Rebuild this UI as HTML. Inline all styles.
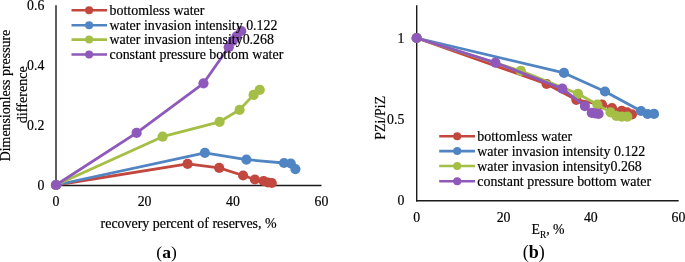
<!DOCTYPE html>
<html><head><meta charset="utf-8"><style>html,body{margin:0;padding:0;background:#fff;width:685px;height:262px;overflow:hidden}svg{display:block;will-change:transform;filter:blur(0.3px)}</style></head>
<body><svg width="685" height="262" viewBox="0 0 685 262" style="font-family:'Liberation Serif',serif" font-size="13.8" fill="#000">
<style>text{stroke:#000;stroke-width:0.18px} text.cap{stroke:none}</style>
<rect width="685" height="262" fill="#fff"/>
<!-- left chart axes -->
<line x1="56" y1="5.3" x2="56" y2="186" stroke="#1a1a1a" stroke-width="1.4"/>
<line x1="56" y1="185.4" x2="321.5" y2="185.4" stroke="#1a1a1a" stroke-width="1.5"/>
<g text-anchor="end">
<text x="44.3" y="10">0.6</text>
<text x="44.3" y="70">0.4</text>
<text x="44.3" y="130">0.2</text>
<text x="44.3" y="189.7">0</text>
</g>
<g text-anchor="middle">
<text x="56" y="205.8">0</text>
<text x="144.6" y="205.8">20</text>
<text x="233" y="205.8">40</text>
<text x="321.5" y="205.8">60</text>
<text x="188.6" y="227.8" font-size="13.95">recovery percent of reserves, %</text>
<text transform="translate(9.7,95.5) rotate(-90)" font-size="13.9">Dimensionless pressure</text>
<text transform="translate(26.6,94.7) rotate(-90)" font-size="14.2">difference</text>
<text class="cap" x="166.5" y="257.8" font-size="17.5">(<tspan font-weight="bold">a</tspan>)</text>
</g>
<!-- right chart axes -->
<line x1="416.7" y1="5.3" x2="416.7" y2="201.4" stroke="#1a1a1a" stroke-width="1.4"/>
<line x1="416" y1="200.7" x2="678.7" y2="200.7" stroke="#1a1a1a" stroke-width="1.5"/>
<g text-anchor="end">
<text x="404.3" y="42.7">1</text>
<text x="404.3" y="123.6">0.5</text>
<text x="404.3" y="205.3">0</text>
</g>
<g text-anchor="middle">
<text x="416.7" y="222">0</text>
<text x="503.6" y="222">20</text>
<text x="590.8" y="222">40</text>
<text x="678.4" y="222">60</text>
<text transform="translate(385,117.8) rotate(-90)">PZi/PiZ</text>
<text class="cap" x="533.7" y="257.8" font-size="18">(<tspan font-weight="bold">b</tspan>)</text>
</g>
<text x="531.5" y="233.5">E<tspan font-size="9.3" dy="4">R</tspan><tspan dy="-4">, %</tspan></text>
<polyline points="56,185 187.6,163.9 219.2,167.9 243.1,175.5 254.9,179.5 263.6,181 267.8,182.5 271.8,183" fill="none" stroke="#C2483F" stroke-width="2.8" stroke-linejoin="round"/>
<circle cx="56" cy="185" r="5.1" fill="#C2483F"/>
<circle cx="187.6" cy="163.9" r="5.1" fill="#C2483F"/>
<circle cx="219.2" cy="167.9" r="5.1" fill="#C2483F"/>
<circle cx="243.1" cy="175.5" r="5.1" fill="#C2483F"/>
<circle cx="254.9" cy="179.5" r="5.1" fill="#C2483F"/>
<circle cx="263.6" cy="181" r="5.1" fill="#C2483F"/>
<circle cx="267.8" cy="182.5" r="5.1" fill="#C2483F"/>
<circle cx="271.8" cy="183" r="5.1" fill="#C2483F"/>
<polyline points="56,185 204.9,152.8 246.4,159.6 284,163 290.8,163.5 295.4,169.1" fill="none" stroke="#5084C2" stroke-width="2.8" stroke-linejoin="round"/>
<circle cx="56" cy="185" r="5.1" fill="#5084C2"/>
<circle cx="204.9" cy="152.8" r="5.1" fill="#5084C2"/>
<circle cx="246.4" cy="159.6" r="5.1" fill="#5084C2"/>
<circle cx="284" cy="163" r="5.1" fill="#5084C2"/>
<circle cx="290.8" cy="163.5" r="5.1" fill="#5084C2"/>
<circle cx="295.4" cy="169.1" r="5.1" fill="#5084C2"/>
<polyline points="56,185 162.6,136.7 219.6,121.8 239.6,109.8 253.6,94.9 259.7,89.9" fill="none" stroke="#A4BE46" stroke-width="2.8" stroke-linejoin="round"/>
<circle cx="56" cy="185" r="5.1" fill="#A4BE46"/>
<circle cx="162.6" cy="136.7" r="5.1" fill="#A4BE46"/>
<circle cx="219.6" cy="121.8" r="5.1" fill="#A4BE46"/>
<circle cx="239.6" cy="109.8" r="5.1" fill="#A4BE46"/>
<circle cx="253.6" cy="94.9" r="5.1" fill="#A4BE46"/>
<circle cx="259.7" cy="89.9" r="5.1" fill="#A4BE46"/>
<polyline points="56,185 136.6,132.9 203.5,83.3 228.7,47.2 232.8,41 236.6,36.4 241.3,31" fill="none" stroke="#8F58BB" stroke-width="2.8" stroke-linejoin="round"/>
<circle cx="56" cy="185" r="5.1" fill="#8F58BB"/>
<circle cx="136.6" cy="132.9" r="5.1" fill="#8F58BB"/>
<circle cx="203.5" cy="83.3" r="5.1" fill="#8F58BB"/>
<circle cx="228.7" cy="47.2" r="5.1" fill="#8F58BB"/>
<circle cx="232.8" cy="41" r="5.1" fill="#8F58BB"/>
<circle cx="236.6" cy="36.4" r="5.1" fill="#8F58BB"/>
<circle cx="241.3" cy="31" r="5.1" fill="#8F58BB"/>
<polyline points="416.7,38 546.6,84.0 576.3,99.8 602,104.5 612,108 621.7,110.8 627,112.3 632,114.3" fill="none" stroke="#C2483F" stroke-width="2.8" stroke-linejoin="round"/>
<circle cx="416.7" cy="38" r="5.1" fill="#C2483F"/>
<circle cx="546.6" cy="84.0" r="5.1" fill="#C2483F"/>
<circle cx="576.3" cy="99.8" r="5.1" fill="#C2483F"/>
<circle cx="602" cy="104.5" r="5.1" fill="#C2483F"/>
<circle cx="612" cy="108" r="5.1" fill="#C2483F"/>
<circle cx="621.7" cy="110.8" r="5.1" fill="#C2483F"/>
<circle cx="627" cy="112.3" r="5.1" fill="#C2483F"/>
<circle cx="632" cy="114.3" r="5.1" fill="#C2483F"/>
<polyline points="416.7,38 564,72.9 605,91.5 641,111 647.6,114 654,113.9" fill="none" stroke="#5084C2" stroke-width="2.8" stroke-linejoin="round"/>
<circle cx="416.7" cy="38" r="5.1" fill="#5084C2"/>
<circle cx="564" cy="72.9" r="5.1" fill="#5084C2"/>
<circle cx="605" cy="91.5" r="5.1" fill="#5084C2"/>
<circle cx="641" cy="111" r="5.1" fill="#5084C2"/>
<circle cx="647.6" cy="114" r="5.1" fill="#5084C2"/>
<circle cx="654" cy="113.9" r="5.1" fill="#5084C2"/>
<polyline points="416.7,38 520.8,70.9 578,93.8 597.3,104.5 610.6,112.4 616.4,116 621.7,116.6 627.3,116.6" fill="none" stroke="#A4BE46" stroke-width="2.8" stroke-linejoin="round"/>
<circle cx="416.7" cy="38" r="5.1" fill="#A4BE46"/>
<circle cx="520.8" cy="70.9" r="5.1" fill="#A4BE46"/>
<circle cx="578" cy="93.8" r="5.1" fill="#A4BE46"/>
<circle cx="597.3" cy="104.5" r="5.1" fill="#A4BE46"/>
<circle cx="610.6" cy="112.4" r="5.1" fill="#A4BE46"/>
<circle cx="616.4" cy="116" r="5.1" fill="#A4BE46"/>
<circle cx="621.7" cy="116.6" r="5.1" fill="#A4BE46"/>
<circle cx="627.3" cy="116.6" r="5.1" fill="#A4BE46"/>
<polyline points="416.7,38 495.4,62.7 562.3,88.6 584.9,106.1 591.8,112.9 595.3,113.4 598.6,113.9" fill="none" stroke="#8F58BB" stroke-width="2.8" stroke-linejoin="round"/>
<circle cx="416.7" cy="38" r="5.1" fill="#8F58BB"/>
<circle cx="495.4" cy="62.7" r="5.1" fill="#8F58BB"/>
<circle cx="562.3" cy="88.6" r="5.1" fill="#8F58BB"/>
<circle cx="584.9" cy="106.1" r="5.1" fill="#8F58BB"/>
<circle cx="591.8" cy="112.9" r="5.1" fill="#8F58BB"/>
<circle cx="595.3" cy="113.4" r="5.1" fill="#8F58BB"/>
<circle cx="598.6" cy="113.9" r="5.1" fill="#8F58BB"/>
<line x1="71.5" y1="10.3" x2="107" y2="10.3" stroke="#C2483F" stroke-width="2.6"/>
<circle cx="89.1" cy="10.3" r="4.0" fill="#C2483F"/>
<text x="109.5" y="15.3" font-size="13.95">bottomless water</text>
<line x1="71.5" y1="25.2" x2="107" y2="25.2" stroke="#5084C2" stroke-width="2.6"/>
<circle cx="89.1" cy="25.2" r="4.0" fill="#5084C2"/>
<text x="109.5" y="29.75" font-size="13.95">water invasion intensity 0.122</text>
<line x1="71.5" y1="39.6" x2="107" y2="39.6" stroke="#A4BE46" stroke-width="2.6"/>
<circle cx="89.1" cy="39.6" r="4.0" fill="#A4BE46"/>
<text x="109.5" y="44.15" font-size="13.95">water invasion intensity0.268</text>
<line x1="71.5" y1="54.5" x2="107" y2="54.5" stroke="#8F58BB" stroke-width="2.6"/>
<circle cx="89.1" cy="54.5" r="4.0" fill="#8F58BB"/>
<text x="109.5" y="59.05" font-size="13.95">constant pressure bottom water</text>
<line x1="439.2" y1="136.3" x2="475" y2="136.3" stroke="#C2483F" stroke-width="2.6"/>
<circle cx="457.2" cy="136.3" r="4.0" fill="#C2483F"/>
<text x="477.3" y="141.3" font-size="13.95">bottomless water</text>
<line x1="439.2" y1="151.1" x2="475" y2="151.1" stroke="#5084C2" stroke-width="2.6"/>
<circle cx="457.2" cy="151.1" r="4.0" fill="#5084C2"/>
<text x="477.3" y="155.65" font-size="13.95">water invasion intensity 0.122</text>
<line x1="439.2" y1="166.0" x2="475" y2="166.0" stroke="#A4BE46" stroke-width="2.6"/>
<circle cx="457.2" cy="166.0" r="4.0" fill="#A4BE46"/>
<text x="477.3" y="170.55" font-size="13.95">water invasion intensity0.268</text>
<line x1="439.2" y1="181.3" x2="475" y2="181.3" stroke="#8F58BB" stroke-width="2.6"/>
<circle cx="457.2" cy="181.3" r="4.0" fill="#8F58BB"/>
<text x="477.3" y="185.85000000000002" font-size="13.95">constant pressure bottom water</text>
</svg></body></html>
